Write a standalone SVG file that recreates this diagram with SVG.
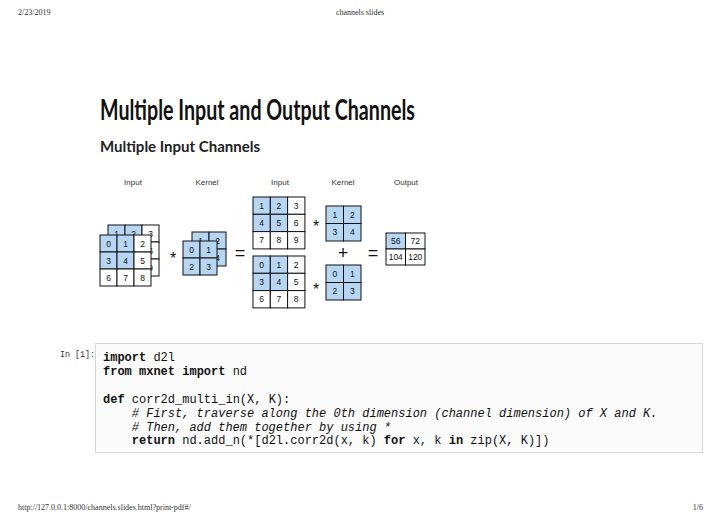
<svg xmlns="http://www.w3.org/2000/svg" width="720" height="525" viewBox="0 0 720 525">
<style>
.hdr{font-family:"Liberation Serif",serif;font-size:8px;fill:#333}
.lbl{font-family:"Liberation Sans",Arial,sans-serif;font-size:8px;fill:#333;text-anchor:middle}
.num{font-family:"Liberation Sans",Arial,sans-serif;font-size:8.5px;fill:#111;text-anchor:middle}
.b{fill:#b7d6f4;stroke:#111;stroke-width:1}
.w{fill:#fff;stroke:#111;stroke-width:1}
.op{font-family:"Liberation Sans",Arial,sans-serif;fill:#111;text-anchor:middle}
.code{font-family:"Liberation Mono","Courier New",monospace;font-size:12px;fill:#111;white-space:pre}
.kw{font-weight:bold}
.cm{font-style:italic}
</style>
<rect width="720" height="525" fill="#fff"/>
<text class="hdr" x="18" y="15">2/23/2019</text>
<text class="hdr" x="360" y="15" text-anchor="middle">channels slides</text>
<text class="hdr" x="18" y="510">http://127.0.0.1:8000/channels.slides.html?print-pdf#/</text>
<text class="hdr" x="703" y="510" text-anchor="end">1/6</text>

<text x="100" y="120" font-family="Lato,'Open Sans',sans-serif" font-weight="bold" font-size="28" fill="#111" textLength="315" lengthAdjust="spacingAndGlyphs">Multiple Input and Output Channels</text>
<text x="100" y="152" font-family="Lato,'Open Sans',sans-serif" font-weight="bold" font-size="15" fill="#222" textLength="160" lengthAdjust="spacingAndGlyphs">Multiple Input Channels</text>

<g id="labels">
<text class="lbl" x="133" y="185">Input</text>
<text class="lbl" x="207" y="185">Kernel</text>
<text class="lbl" x="280" y="185">Input</text>
<text class="lbl" x="343" y="185">Kernel</text>
<text class="lbl" x="406" y="185">Output</text>
</g>

<g id="input-back">
<rect class="b" x="108" y="225" width="17" height="17"/><rect class="b" x="125" y="225" width="17" height="17"/><rect class="w" x="142" y="225" width="17" height="17"/>
<rect class="b" x="108" y="242" width="17" height="17"/><rect class="b" x="125" y="242" width="17" height="17"/><rect class="w" x="142" y="242" width="17" height="17"/>
<rect class="w" x="108" y="259" width="17" height="17"/><rect class="w" x="125" y="259" width="17" height="17"/><rect class="w" x="142" y="259" width="17" height="17"/>
<text class="num" x="116.5" y="236.5">1</text><text class="num" x="133.5" y="236.5">2</text><text class="num" x="150.5" y="236.5">3</text>
<text class="num" x="116.5" y="253.5">4</text><text class="num" x="133.5" y="253.5">5</text><text class="num" x="150.5" y="253.5">6</text>
<text class="num" x="116.5" y="270.5">7</text><text class="num" x="133.5" y="270.5">8</text><text class="num" x="150.5" y="270.5">9</text>
</g>
<g id="input-front">
<rect class="b" x="100" y="235" width="17" height="17"/><rect class="b" x="117" y="235" width="17" height="17"/><rect class="w" x="134" y="235" width="17" height="17"/>
<rect class="b" x="100" y="252" width="17" height="17"/><rect class="b" x="117" y="252" width="17" height="17"/><rect class="w" x="134" y="252" width="17" height="17"/>
<rect class="w" x="100" y="269" width="17" height="17"/><rect class="w" x="117" y="269" width="17" height="17"/><rect class="w" x="134" y="269" width="17" height="17"/>
<text class="num" x="108.5" y="246.5">0</text><text class="num" x="125.5" y="246.5">1</text><text class="num" x="142.5" y="246.5">2</text>
<text class="num" x="108.5" y="263.5">3</text><text class="num" x="125.5" y="263.5">4</text><text class="num" x="142.5" y="263.5">5</text>
<text class="num" x="108.5" y="280.5">6</text><text class="num" x="125.5" y="280.5">7</text><text class="num" x="142.5" y="280.5">8</text>
</g>

<g id="kernel-back">
<rect class="b" x="192" y="232" width="17" height="17"/><rect class="b" x="209" y="232" width="17" height="17"/>
<rect class="b" x="192" y="249" width="17" height="17"/><rect class="b" x="209" y="249" width="17" height="17"/>
<text class="num" x="200.5" y="243.5">1</text><text class="num" x="217.5" y="243.5">2</text>
<text class="num" x="200.5" y="260.5">3</text><text class="num" x="217.5" y="260.5">4</text>
</g>
<g id="kernel-front">
<rect class="b" x="183" y="241" width="17" height="17"/><rect class="b" x="200" y="241" width="17" height="17"/>
<rect class="b" x="183" y="258" width="17" height="17"/><rect class="b" x="200" y="258" width="17" height="17"/>
<text class="num" x="191.5" y="252.5">0</text><text class="num" x="208.5" y="252.5">1</text>
<text class="num" x="191.5" y="269.5">2</text><text class="num" x="208.5" y="269.5">3</text>
</g>

<g id="input-ch1">
<rect class="b" x="253" y="197" width="17.3" height="17.3"/><rect class="b" x="270.3" y="197" width="17.3" height="17.3"/><rect class="w" x="287.6" y="197" width="17.3" height="17.3"/>
<rect class="b" x="253" y="214.3" width="17.3" height="17.3"/><rect class="b" x="270.3" y="214.3" width="17.3" height="17.3"/><rect class="w" x="287.6" y="214.3" width="17.3" height="17.3"/>
<rect class="w" x="253" y="231.6" width="17.3" height="17.3"/><rect class="w" x="270.3" y="231.6" width="17.3" height="17.3"/><rect class="w" x="287.6" y="231.6" width="17.3" height="17.3"/>
<text class="num" x="261.6" y="208.6">1</text><text class="num" x="278.9" y="208.6">2</text><text class="num" x="296.2" y="208.6">3</text>
<text class="num" x="261.6" y="225.9">4</text><text class="num" x="278.9" y="225.9">5</text><text class="num" x="296.2" y="225.9">6</text>
<text class="num" x="261.6" y="243.2">7</text><text class="num" x="278.9" y="243.2">8</text><text class="num" x="296.2" y="243.2">9</text>
</g>
<g id="input-ch0">
<rect class="b" x="253" y="256" width="17.3" height="17.3"/><rect class="b" x="270.3" y="256" width="17.3" height="17.3"/><rect class="w" x="287.6" y="256" width="17.3" height="17.3"/>
<rect class="b" x="253" y="273.3" width="17.3" height="17.3"/><rect class="b" x="270.3" y="273.3" width="17.3" height="17.3"/><rect class="w" x="287.6" y="273.3" width="17.3" height="17.3"/>
<rect class="w" x="253" y="290.6" width="17.3" height="17.3"/><rect class="w" x="270.3" y="290.6" width="17.3" height="17.3"/><rect class="w" x="287.6" y="290.6" width="17.3" height="17.3"/>
<text class="num" x="261.6" y="267.6">0</text><text class="num" x="278.9" y="267.6">1</text><text class="num" x="296.2" y="267.6">2</text>
<text class="num" x="261.6" y="284.9">3</text><text class="num" x="278.9" y="284.9">4</text><text class="num" x="296.2" y="284.9">5</text>
<text class="num" x="261.6" y="302.2">6</text><text class="num" x="278.9" y="302.2">7</text><text class="num" x="296.2" y="302.2">8</text>
</g>

<g id="kernel-ch1">
<rect class="b" x="326" y="206" width="17.5" height="17.5"/><rect class="b" x="343.5" y="206" width="17.5" height="17.5"/>
<rect class="b" x="326" y="223.5" width="17.5" height="17.5"/><rect class="b" x="343.5" y="223.5" width="17.5" height="17.5"/>
<text class="num" x="334.75" y="217.8">1</text><text class="num" x="352.25" y="217.8">2</text>
<text class="num" x="334.75" y="235.3">3</text><text class="num" x="352.25" y="235.3">4</text>
</g>
<g id="kernel-ch0">
<rect class="b" x="326" y="265" width="17.5" height="17.5"/><rect class="b" x="343.5" y="265" width="17.5" height="17.5"/>
<rect class="b" x="326" y="282.5" width="17.5" height="17.5"/><rect class="b" x="343.5" y="282.5" width="17.5" height="17.5"/>
<text class="num" x="334.75" y="276.8">0</text><text class="num" x="352.25" y="276.8">1</text>
<text class="num" x="334.75" y="294.3">2</text><text class="num" x="352.25" y="294.3">3</text>
</g>

<g id="output">
<rect class="b" x="386" y="233" width="19.5" height="16"/><rect class="w" x="405.5" y="233" width="19.5" height="16"/>
<rect class="w" x="386" y="249" width="19.5" height="16"/><rect class="w" x="405.5" y="249" width="19.5" height="16"/>
<text class="num" x="395.75" y="244">56</text><text class="num" x="415.25" y="244">72</text>
<text class="num" x="395.75" y="260">104</text><text class="num" x="415.25" y="260">120</text>
</g>

<g id="connectors">
<text class="op" x="173" y="264" font-size="16">*</text>
<text class="op" x="240" y="259" font-size="18">=</text>
<text class="op" x="316" y="232" font-size="16">*</text>
<text class="op" x="316" y="295" font-size="16">*</text>
<text class="op" x="343" y="259" font-size="18">+</text>
<text class="op" x="373" y="259" font-size="18">=</text>
</g>

<g id="code-cell">
<rect x="95.5" y="343.5" width="607" height="109" fill="#fbfbfb" stroke="#d6d6d6" stroke-width="1"/>
<text x="60" y="357" font-family="'Liberation Mono',monospace" font-size="9.5" fill="#333" textLength="35" lengthAdjust="spacingAndGlyphs">In [1]:</text>
<text class="code" x="103" y="361"><tspan class="kw">import</tspan> d2l</text>
<text class="code" x="103" y="375"><tspan class="kw">from</tspan> <tspan class="kw">mxnet</tspan> <tspan class="kw">import</tspan> nd</text>
<text class="code" x="103" y="403"><tspan class="kw">def</tspan> corr2d_multi_in(X, K):</text>
<text class="code cm" x="131.8" y="417"># First, traverse along the 0th dimension (channel dimension) of X and K.</text>
<text class="code cm" x="131.8" y="431"># Then, add them together by using *</text>
<text class="code" x="131.8" y="444"><tspan class="kw">return</tspan> nd.add_n(*[d2l.corr2d(x, k) <tspan class="kw">for</tspan> x, k <tspan class="kw">in</tspan> zip(X, K)])</text>
</g>
</svg>
